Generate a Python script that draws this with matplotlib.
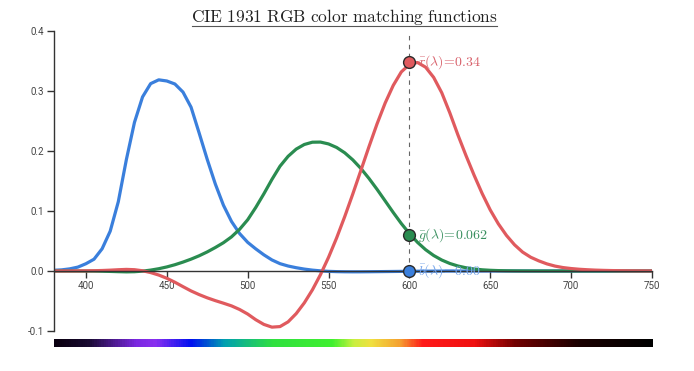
import numpy as np
import matplotlib
matplotlib.use("Agg")
import matplotlib.pyplot as plt
from matplotlib.colors import LinearSegmentedColormap

plt.rcParams['mathtext.fontset'] = 'cm'

# CIE 1931 RGB colour matching functions, 5 nm steps
wl = list(range(380, 755, 5))
r_bar = [0.00003, 0.00005, 0.00010, 0.00017, 0.00030, 0.00047, 0.00084, 0.00139, 0.00211, 0.00266,
         0.00218, 0.00036, -0.00261, -0.00673, -0.01213, -0.01874, -0.02608, -0.03324, -0.03933, -0.04471,
         -0.04939, -0.05364, -0.05814, -0.06414, -0.07173, -0.08120, -0.08901, -0.09356, -0.09264, -0.08473,
         -0.07101, -0.05316, -0.03152, -0.00613, 0.02279, 0.05514, 0.09060, 0.12840, 0.16768, 0.20715,
         0.24526, 0.27989, 0.30928, 0.33184, 0.34429, 0.34756, 0.33971, 0.32265, 0.29708, 0.26348,
         0.22677, 0.19233, 0.15968, 0.12905, 0.10167, 0.07857, 0.05932, 0.04366, 0.03149, 0.02294,
         0.01687, 0.01187, 0.00819, 0.00572, 0.00410, 0.00291, 0.00210, 0.00148, 0.00105, 0.00074,
         0.00052, 0.00036, 0.00025, 0.00017, 0.00012]
g_bar = [-0.00001, -0.00002, -0.00004, -0.00007, -0.00014, -0.00022, -0.00041, -0.00070, -0.00110, -0.00143,
         -0.00119, -0.00021, 0.00149, 0.00379, 0.00678, 0.01046, 0.01485, 0.01977, 0.02538, 0.03183,
         0.03914, 0.04713, 0.05689, 0.06948, 0.08536, 0.10593, 0.12860, 0.15262, 0.17468, 0.19113,
         0.20317, 0.21083, 0.21466, 0.21487, 0.21178, 0.20588, 0.19702, 0.18522, 0.17087, 0.15429,
         0.13610, 0.11686, 0.09754, 0.07909, 0.06246, 0.04776, 0.03557, 0.02583, 0.01828, 0.01253,
         0.00833, 0.00537, 0.00334, 0.00199, 0.00116, 0.00066, 0.00037, 0.00021, 0.00011, 0.00006,
         0.00003, 0.00001, 0.0, 0.0, 0.0, 0.0, 0.0, 0.0, 0.0, 0.0,
         0.0, 0.0, 0.0, 0.0, 0.0]
b_bar = [0.00117, 0.00189, 0.00359, 0.00647, 0.01214, 0.01969, 0.03707, 0.06637, 0.11541, 0.18575,
         0.24769, 0.29012, 0.31228, 0.31860, 0.31670, 0.31166, 0.29821, 0.27295, 0.22991, 0.18592,
         0.14494, 0.10968, 0.08257, 0.06246, 0.04776, 0.03688, 0.02698, 0.01842, 0.01221, 0.00830,
         0.00549, 0.00320, 0.00146, 0.00023, -0.00058, -0.00105, -0.00130, -0.00138, -0.00135, -0.00123,
         -0.00108, -0.00093, -0.00079, -0.00063, -0.00049, -0.00038, -0.00030, -0.00022, -0.00015, -0.00011,
         -0.00008, -0.00005, -0.00003, -0.00002, -0.00001, -0.00001, 0.0, 0.0, 0.0, 0.0,
         0.0, 0.0, 0.0, 0.0, 0.0, 0.0, 0.0, 0.0, 0.0, 0.0,
         0.0, 0.0, 0.0, 0.0, 0.0]

cursor_wl = 600
cursor_vals = {'r': 0.348, 'g': 0.060, 'b': 0.00}
cursor_text = {'r': '0.34', 'g': '0.062', 'b': '0.00'}

yticks = [-0.1, 0.0, 0.1, 0.2, 0.3, 0.4]
xticks = [400, 450, 500, 550, 600, 650, 700, 750]

# spectrum bar colour stops (wavelength, colour)
spec_wl = [380, 400, 430, 442, 464, 485, 515, 552, 565, 576, 594, 608, 640, 666, 705, 750]
spec_col = ['#0a0010', '#180a30', '#7a28e0', '#8a30f0', '#0010f0', '#00a0b0', '#30e040', '#40f030',
            '#c8f040', '#f0e040', '#f5a030', '#ff1a1a', '#f01010', '#700000', '#1a0000', '#000000']

colors = {'r': '#e05a5e', 'g': '#2a8c50', 'b': '#3a7fdc'}
label_colors = {'r': '#d8606a', 'g': '#3a9060', 'b': '#78a6ea'}

fig = plt.figure(figsize=(6.94, 3.71), dpi=100)
ax = fig.add_axes([53.6 / 694, 1 - 331 / 371, (652 - 53.6) / 694, 300 / 371])

ax.plot(wl, b_bar, color=colors['b'], lw=2.3, solid_capstyle='round', zorder=2)
ax.plot(wl, g_bar, color=colors['g'], lw=2.3, solid_capstyle='round', zorder=2)
ax.plot(wl, r_bar, color=colors['r'], lw=2.3, solid_capstyle='round', zorder=2)

ax.plot([cursor_wl, cursor_wl], [0, 0.4], color='#666666', lw=0.8, ls=(0, (4, 4)), zorder=1)

names = {'r': r'\bar{r}', 'g': r'\bar{g}', 'b': r'\bar{b}'}
for k in ['r', 'g', 'b']:
    v = cursor_vals[k]
    ax.plot(cursor_wl, v, 'o', ms=8.5, mfc=colors[k], mec='#2a2a2a', mew=1, zorder=5)
    ax.text(cursor_wl + 5.5, v, r'$%s(\lambda)\!=\!%s$' % (names[k], cursor_text[k]),
            color=label_colors[k], fontsize=10, va='center', ha='left', zorder=6)

ax.set_xlim(380, 750)
ax.set_ylim(-0.1, 0.4)
ax.spines['top'].set_visible(False)
ax.spines['right'].set_visible(False)
ax.spines['bottom'].set_position(('data', 0))
for s in ['left', 'bottom']:
    ax.spines[s].set_color('#333333')
    ax.spines[s].set_linewidth(1)
ax.set_xticks(xticks)
ax.set_xticklabels([str(t) for t in xticks])
ax.set_yticks(yticks)
ax.set_yticklabels(['%.1f' % t for t in yticks])
ax.tick_params(axis='both', length=5, width=1, color='#333333', labelcolor='#444444',
               labelsize=7, pad=2)
for lbl in ax.get_xticklabels() + ax.get_yticklabels():
    lbl.set_fontfamily('Roboto')

# spectrum bar
cmap = LinearSegmentedColormap.from_list(
    'spec', [((w - 380) / 370, c) for w, c in zip(spec_wl, spec_col)])
bax = fig.add_axes([53.6 / 694, 1 - 347 / 371, (652 - 53.6) / 694, 8 / 371])
bax.imshow(np.linspace(0, 1, 600)[None, :], aspect='auto', cmap=cmap, extent=[380, 750, 0, 1])
bax.axis('off')

# title with underline
fig.text(344.5 / 694, 1 - 17 / 371, r'$\mathrm{CIE\ 1931\ RGB\ color\ matching\ functions}$',
         ha='center', va='center', fontsize=12.5, color='#222222')
fig.add_artist(plt.Line2D([192 / 694, 497 / 694], [1 - 26 / 371, 1 - 26 / 371],
                          color='#555555', lw=0.8))

fig.savefig('out.png', dpi=100)
